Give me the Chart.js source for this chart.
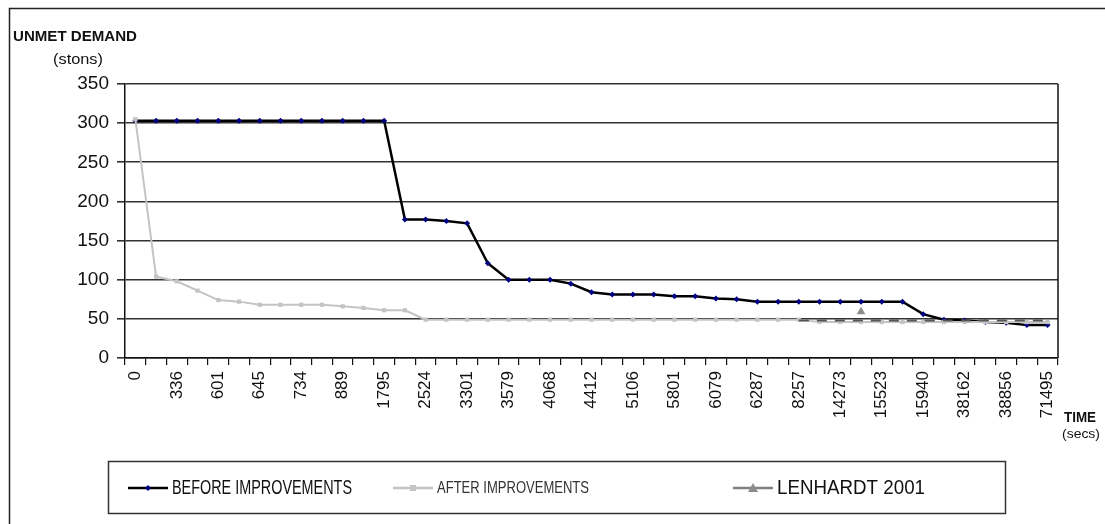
<!DOCTYPE html>
<html>
<head>
<meta charset="utf-8">
<script src="https://cdn.jsdelivr.net/npm/chart.js@4.4.0/dist/chart.umd.min.js"></script>
<style>
    html, body { margin: 0; padding: 0; background: #fff; }
    #wrap { width: 1105px; height: 524px; }
</style>
</head>
<body>
<div id="wrap"><canvas id="demandChart" width="1105" height="524"></canvas></div>
<script>
// time categories (only every other one carries a label)
let timeLabels = ['0', '', '336', '', '601', '', '645', '', '734', '', '889', '', '1795', '', '2524', '',
    '3301', '', '3579', '', '4068', '', '4412', '', '5106', '', '5801', '', '6079', '', '6287', '',
    '8257', '', '14273', '', '15523', '', '15940', '', '38162', '', '38856', '', '71495'];

// unmet demand (stons)
let beforeImprovements = [303, 303, 303, 303, 303, 303, 303, 303, 303, 303, 303, 303, 303,
    177, 177, 175, 172, 121, 100, 100, 100, 95, 84, 81, 81, 81, 79, 79, 76, 75,
    72, 72, 72, 72, 72, 72, 72, 72, 56, 49, 48, 46, 45, 42, 42];
let afterImprovements = [305, 104, 98, 86, 74, 72, 68, 68, 68, 68, 66, 64, 61, 61,
    49, 49, 49, 49, 49, 49, 49, 49, 49, 49, 49, 49, 49, 49, 49, 49, 49, 49, 49,
    46, 46, 46, 46, 46, 46, 46, 46, 46, 46, 46, 46];
let lenhardtPoint = [null, null, null, null, null, null, null, null, null, null, null, null, null, null, null,
    null, null, null, null, null, null, null, null, null, null, null, null, null, null, null, null, null, null,
    null, null, 59, null, null, null, null, null, null, null, null, null];
let lenhardtLine = [null, null, null, null, null, null, null, null, null, null, null, null, null, null, null,
    null, null, null, null, null, null, null, null, null, null, null, null, null, null, null, null, null,
    48, 48, 48, 48, 48, 48, 48, 48, 48, 48, 48, 48, 48];

let yTicks = [0, 50, 100, 150, 200, 250, 300, 350];

const FONT = '"Liberation Sans", Arial, sans-serif';

function drawStretched(ctx, text, x, y, width, font, color, align) {
    ctx.save();
    ctx.font = font;
    ctx.fillStyle = color;
    ctx.textBaseline = 'middle';
    ctx.textAlign = 'left';
    let w = ctx.measureText(text).width;
    let sx = width / w;
    let left = align === 'center' ? x - width / 2 : x;
    ctx.translate(left, y);
    ctx.scale(sx, 1);
    ctx.fillText(text, 0, 0);
    ctx.restore();
}

function drawMarker(ctx, style, x, y, color) {
    ctx.save();
    ctx.fillStyle = color;
    ctx.beginPath();
    if (style === 'rectRot') {
        ctx.moveTo(x, y - 3); ctx.lineTo(x + 3, y); ctx.lineTo(x, y + 3); ctx.lineTo(x - 3, y);
    } else if (style === 'rect') {
        ctx.rect(x - 3, y - 3, 6, 6);
    } else {
        ctx.moveTo(x, y - 5); ctx.lineTo(x + 5, y + 4); ctx.lineTo(x - 5, y + 4);
    }
    ctx.closePath();
    ctx.fill();
    ctx.restore();
}

const framePlugin = {
    id: 'framePlugin',
    afterDraw(chart) {
        let ctx = chart.ctx;
        let area = chart.chartArea;
        ctx.save();
        // outer frame
        ctx.strokeStyle = '#222';
        ctx.lineWidth = 1.5;
        ctx.beginPath();
        ctx.moveTo(9.5, 524); ctx.lineTo(9.5, 8.5); ctx.lineTo(1105, 8.5);
        ctx.stroke();
        // plot area right border
        ctx.strokeStyle = '#111';
        ctx.beginPath();
        ctx.moveTo(area.right, area.top); ctx.lineTo(area.right, area.bottom);
        ctx.stroke();
        ctx.restore();

        // axis titles
        drawStretched(ctx, 'UNMET DEMAND', 75, 37, 124, 'bold 15px ' + FONT, '#111', 'center');
        drawStretched(ctx, '(stons)', 78, 60, 50, '15px ' + FONT, '#111', 'center');
        drawStretched(ctx, 'TIME', 1064, 418, 32, 'bold 14px ' + FONT, '#111', 'left');
        drawStretched(ctx, '(secs)', 1062, 434, 38, '13px ' + FONT, '#111', 'left');

        // legend
        ctx.save();
        ctx.strokeStyle = '#333';
        ctx.lineWidth = 1.5;
        ctx.strokeRect(108.5, 461.5, 897, 52);
        ctx.restore();
        let items = [
            { ds: 0, x: 128, textX: 172, width: 180, font: '21px ' + FONT, color: '#111' },
            { ds: 1, x: 393, textX: 437, width: 152, font: '17px ' + FONT, color: '#333' },
            { ds: 2, x: 733, textX: 777, width: 148, font: '21px ' + FONT, color: '#111' }
        ];
        items.forEach(function (it) {
            let ds = chart.data.datasets[it.ds];
            let y = 488;
            ctx.save();
            ctx.strokeStyle = ds.legendLine;
            ctx.lineWidth = 2.5;
            ctx.beginPath();
            ctx.moveTo(it.x, y); ctx.lineTo(it.x + 40, y);
            ctx.stroke();
            ctx.restore();
            drawMarker(ctx, ds.pointStyle, it.x + 20, y, ds.pointBackgroundColor);
            drawStretched(ctx, ds.label, it.textX, y, it.width, it.font, it.color, 'left');
        });
    }
};

new Chart(document.getElementById('demandChart'), {
    type: 'line',
    data: {
        labels: timeLabels,
        datasets: [
            {
                label: 'BEFORE IMPROVEMENTS',
                data: beforeImprovements,
                borderColor: '#000',
                borderWidth: 2.5,
                legendLine: '#000',
                pointStyle: 'rectRot',
                pointRadius: 3,
                pointBorderWidth: 0,
                pointBackgroundColor: '#000080',
                pointBorderColor: '#000080',
                tension: 0,
                order: 4
            },
            {
                label: 'AFTER IMPROVEMENTS',
                data: afterImprovements,
                borderColor: '#c4c4c4',
                borderWidth: 2,
                legendLine: '#c4c4c4',
                pointStyle: 'rect',
                pointRadius: 3,
                pointBorderWidth: 0,
                pointBackgroundColor: '#c4c4c4',
                pointBorderColor: '#c4c4c4',
                tension: 0,
                order: 3
            },
            {
                label: 'LENHARDT 2001',
                data: lenhardtPoint,
                showLine: false,
                legendLine: '#808080',
                borderColor: '#808080',
                pointStyle: 'triangle',
                pointRadius: 5,
                pointBorderWidth: 0,
                pointBackgroundColor: '#8c8c8c',
                pointBorderColor: '#8c8c8c',
                order: 1
            },
            {
                label: 'LENHARDT LEVEL',
                data: lenhardtLine,
                borderColor: '#555',
                borderWidth: 2,
                borderDash: [10, 8],
                pointRadius: 0,
                spanGaps: false,
                order: 2
            }
        ]
    },
    options: {
        responsive: false,
        devicePixelRatio: 1,
        animation: false,
        layout: {
            padding: { left: 10, right: 47, top: 84, bottom: 106 }
        },
        plugins: {
            legend: { display: false },
            tooltip: { enabled: false }
        },
        scales: {
            x: {
                type: 'category',
                offset: true,
                grid: {
                    offset: true,
                    drawOnChartArea: false,
                    drawTicks: true,
                    tickLength: 7,
                    color: '#111',
                    lineWidth: 1.2
                },
                border: { color: '#111', width: 1.5 },
                ticks: {
                    autoSkip: false,
                    maxRotation: 90,
                    minRotation: 90,
                    padding: 6,
                    color: '#111',
                    font: { family: FONT, size: 17 }
                },
                afterFit: function (scale) { scale.height = 60; }
            },
            y: {
                min: 0,
                max: 350,
                afterBuildTicks: function (scale) {
                    scale.ticks = yTicks.map(function (v) { return { value: v }; });
                },
                grid: {
                    color: '#333',
                    lineWidth: 1.6,
                    drawTicks: true,
                    tickLength: 8
                },
                border: { color: '#111', width: 1.5 },
                ticks: {
                    padding: 8,
                    color: '#111',
                    font: { family: FONT, size: 19 }
                },
                afterFit: function (scale) { scale.width = 115; }
            }
        }
    },
    plugins: [framePlugin]
});
</script>
</body>
</html>
